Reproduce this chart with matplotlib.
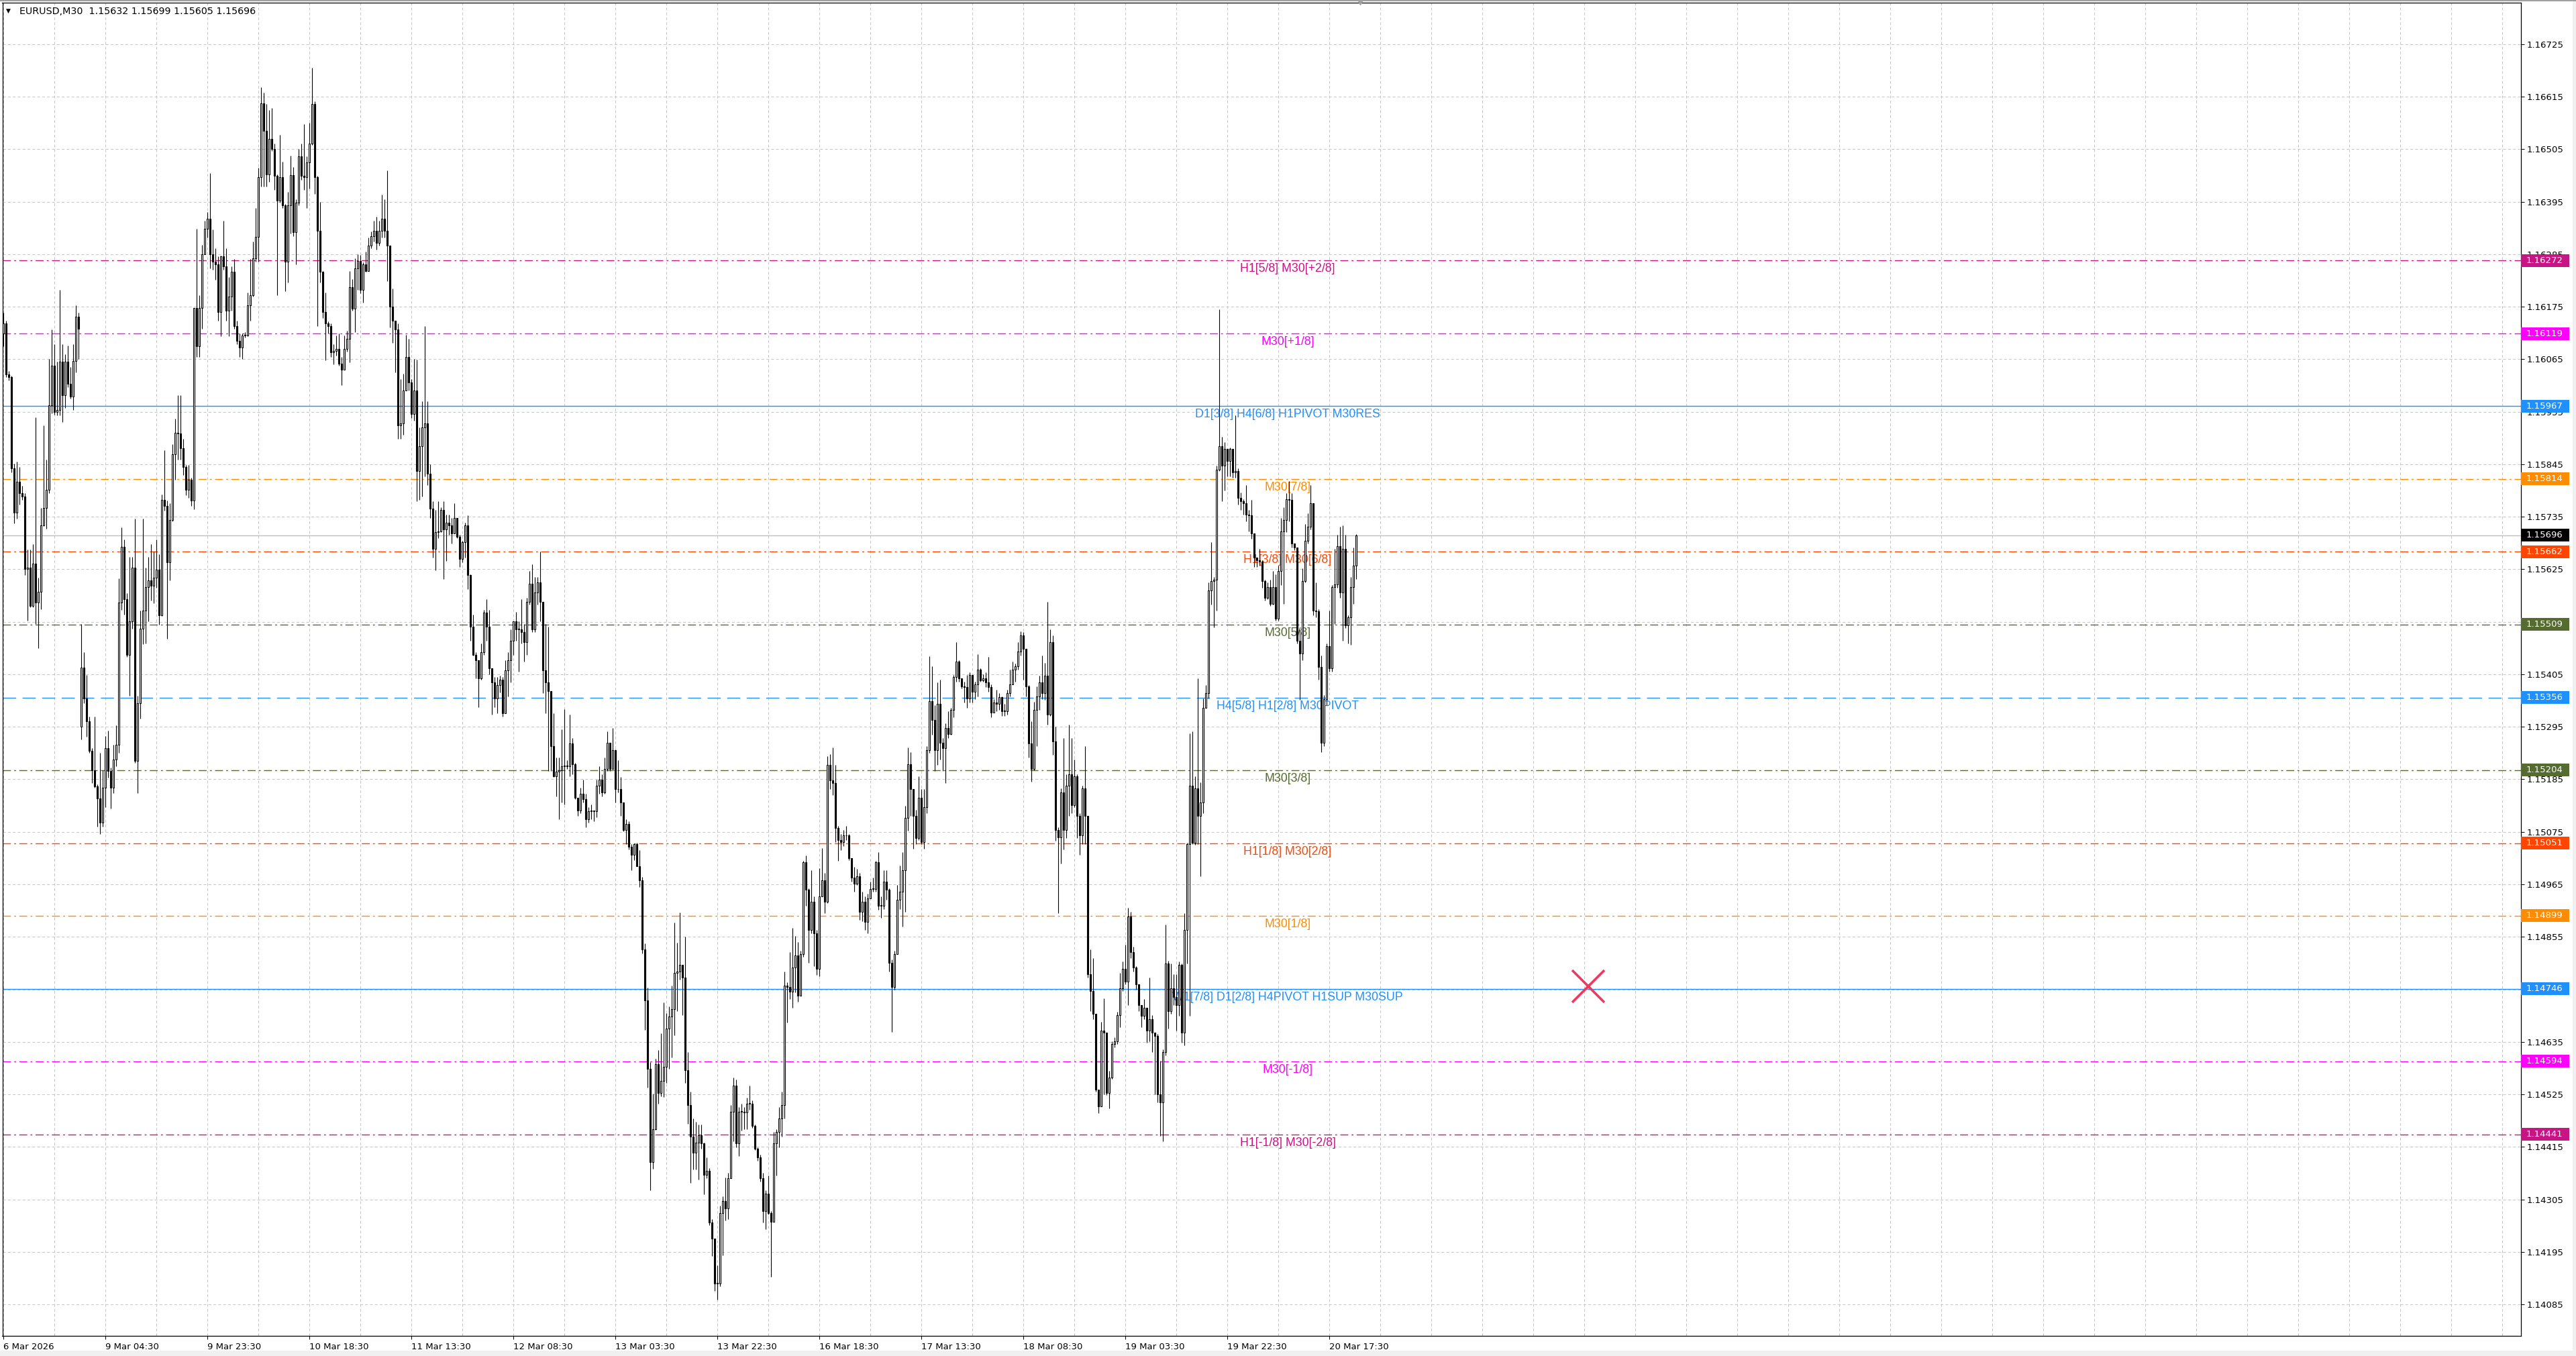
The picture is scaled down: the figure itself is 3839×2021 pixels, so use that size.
import matplotlib
matplotlib.use("Agg")
import matplotlib.pyplot as plt
import matplotlib.transforms as mtransforms
from matplotlib.patches import Rectangle
import numpy as np

# ---------------- data ----------------
title_text = "EURUSD,M30  1.15632 1.15699 1.15605 1.15696"

# prices stored as offsets: price = 1.1 + v / 1e5
first_open = 6119
gap_opens = {29: 5296}

closes = [
    6140, 6033, 6027, 5836, 5744, 5809, 5785, 5778, 5626, 5629,
    5548, 5637, 5556, 5578, 5717, 5753, 5791, 5968, 6051, 5955,
    5959, 6060, 5990, 6060, 6014, 5987, 6062, 6154, 6129,
    5419, 5355, 5306, 5245, 5204, 5170, 5145, 5095, 5167, 5250, 5202,
    5167, 5226, 5258, 5556, 5672, 5562, 5446, 5516, 5629, 5223,
    5344, 5500, 5538, 5588, 5602, 5591, 5608, 5624, 5529, 5771,
    5758, 5640, 5728, 5866, 5911, 5910, 5879, 5839, 5791, 5812,
    5769, 6172, 6092, 6172, 6285, 6339, 6359, 6285, 6269, 6264,
    6164, 6280, 6259, 6167, 6197, 6248, 6135, 6103, 6090, 6115,
    6115, 6178, 6199, 6277, 6321, 6447, 6601, 6544, 6452, 6527,
    6506, 6449, 6398, 6447, 6388, 6269, 6388, 6451, 6331, 6393,
    6490, 6450, 6447, 6477, 6517, 6600, 6447, 6334, 6248, 6164,
    6140, 6135, 6079, 6083, 6086, 6056, 6043, 6086, 6108,
    6216, 6171, 6256, 6271, 6210, 6264, 6250, 6303, 6323, 6334, 6309,
    6334, 6359, 6334, 6303, 6175, 6146, 6128, 5926, 5930, 5999,
    6070, 6017, 5950, 5999, 5831, 5883, 5922, 5930, 5825, 5752,
    5668, 5703, 5705, 5749, 5708, 5722, 5717, 5700, 5732, 5693,
    5647, 5682, 5717, 5613, 5505, 5446, 5435, 5396, 5452, 5534,
    5505, 5417, 5388, 5355, 5382, 5394, 5324, 5414, 5435, 5475,
    5516, 5499, 5499, 5493, 5472, 5557, 5595, 5499, 5577, 5598,
    5557, 5414, 5388, 5370, 5254, 5192, 5201, 5204, 5213, 5213,
    5213, 5260, 5216, 5146, 5120, 5155, 5143, 5102, 5118, 5118,
    5118, 5172, 5184, 5157, 5207, 5262, 5207, 5246, 5164, 5164,
    5137, 5079, 5091, 5044, 5027, 5050, 5003, 4974, 4829, 4722,
    4578, 4383, 4452, 4588, 4528, 4553, 4583, 4663, 4688, 4704,
    4779, 4782, 4796, 4770, 4575, 4502, 4437, 4403, 4424, 4439,
    4422, 4357, 4365, 4257, 4223, 4129, 4129, 4276, 4301, 4286,
    4349, 4489, 4543, 4422, 4489, 4489, 4487, 4506, 4506, 4459,
    4411, 4393, 4349, 4280, 4317, 4276, 4258, 4422, 4447, 4474,
    4502, 4753, 4750, 4740, 4790, 4816, 4732, 4819, 5011, 4954,
    4870, 4929, 4863, 4788, 4939, 4974, 4929, 5215, 5183, 5177,
    5083, 5058, 5054, 5067, 5067, 5020, 4979, 4966, 4982, 4907,
    4929, 4886, 4936, 4955, 4955, 5011, 4920, 4920, 4970, 4954,
    4801, 4750, 4819, 4932, 4949, 4995, 5104, 5217, 5164, 5108,
    5062, 5146, 5054, 5127, 5246, 5349, 5309, 5246, 5343, 5262,
    5250, 5293, 5280, 5330, 5400, 5431, 5397, 5380, 5378, 5355,
    5403, 5368, 5384, 5415, 5393, 5397, 5388, 5378, 5325, 5346,
    5343, 5357, 5328, 5328, 5365, 5384, 5415, 5422, 5453, 5487,
    5458, 5379, 5260, 5207, 5330, 5359, 5388, 5365, 5402, 5320,
    5472, 5265, 5079, 5064, 5157, 5079, 5172, 5196, 5131, 5192,
    5108, 5067, 5166, 5108, 4776, 4741, 4694, 4535, 4500, 4659,
    4654, 4528, 4560, 4630, 4636, 4691, 4747, 4788, 4761, 4898,
    4823, 4791, 4756, 4712, 4689, 4706, 4659, 4683, 4654, 4648,
    4525, 4508, 4613, 4799, 4700, 4747, 4729, 4712, 4796, 4654,
    4869, 5050, 5172, 5052, 5166, 5108, 5137, 5335, 5365, 5580,
    5600, 5603, 5833, 5883, 5842, 5877, 5852, 5877, 5828, 5831,
    5775, 5767, 5763, 5740, 5738, 5700, 5650, 5644, 5641, 5600,
    5565, 5588, 5553, 5588, 5522, 5621, 5705, 5728, 5772, 5770,
    5679, 5670, 5475, 5448, 5600, 5685, 5714, 5763, 5539, 5537,
    5420, 5262, 5353, 5464, 5417, 5588, 5594, 5673, 5577, 5668,
    5507, 5525, 5588, 5632, 5696,
]

highs = [
    6162, 6146, 6040, 6030, 5847, 5850, 5839, 5800, 5785, 5667,
    5667, 5678, 5944, 5608, 5753, 5927, 5855, 6065, 6127, 6097,
    6060, 6210, 6097, 6076, 6094, 6049, 6097, 6178, 6162,
    5511, 5452, 5403, 5317, 5250, 5317, 5175, 5240, 5204, 5276, 5287,
    5210, 5258, 5298, 5606, 5713, 5688, 5575, 5651, 5651, 5731,
    5360, 5538, 5731, 5629, 5651, 5678, 5662, 5688, 5656, 5782,
    5874, 5769, 5764, 5887, 5941, 5990, 5990, 5898, 5844, 5844,
    5817, 6172, 6339, 6199, 6305, 6355, 6374, 6455, 6337, 6298,
    6280, 6282, 6355, 6298, 6237, 6259, 6275, 6146, 6119, 6119,
    6122, 6205, 6275, 6312, 6382, 6466, 6635, 6624, 6600, 6587,
    6592, 6517, 6452, 6535, 6479, 6390, 6415, 6492, 6468, 6400,
    6506, 6517, 6557, 6490, 6560, 6675, 6605, 6450, 6395, 6250,
    6205, 6145, 6140, 6097, 6115, 6119, 6070, 6115, 6124,
    6250, 6233, 6276, 6285, 6283, 6268, 6291, 6320, 6332, 6355, 6363,
    6355, 6410, 6400, 6460, 6303, 6213, 6146, 6140, 6023, 6035,
    6116, 6108, 6023, 6066, 6064, 5922, 5977, 6134, 5977, 5845,
    5767, 5749, 5767, 5755, 5767, 5740, 5740, 5732, 5763, 5732,
    5697, 5685, 5722, 5738, 5615, 5530, 5452, 5435, 5470, 5540,
    5563, 5540, 5411, 5400, 5400, 5402, 5400, 5435, 5452, 5499,
    5516, 5536, 5516, 5563, 5510, 5565, 5621, 5635, 5609, 5609,
    5662, 5557, 5510, 5505, 5370, 5324, 5231, 5231, 5289, 5332,
    5225, 5320, 5271, 5219, 5143, 5167, 5184, 5155, 5126, 5132,
    5118, 5184, 5213, 5196, 5231, 5285, 5262, 5292, 5248, 5225,
    5190, 5137, 5102, 5097, 5050, 5050, 5052, 5036, 4980, 4841,
    4749, 4592, 4526, 4599, 4618, 4653, 4717, 4695, 4709, 4753,
    4885, 4843, 4906, 4796, 4855, 4613, 4531, 4474, 4468, 4462,
    4462, 4424, 4393, 4371, 4263, 4223, 4167, 4292, 4311, 4351,
    4361, 4502, 4560, 4556, 4499, 4506, 4499, 4518, 4543, 4512,
    4462, 4414, 4399, 4361, 4324, 4355, 4280, 4447, 4452, 4499,
    4531, 4782, 4760, 4823, 4873, 4857, 4844, 4826, 5014, 5026,
    4957, 4995, 4939, 4870, 4999, 5041, 4989, 5234, 5237, 5252,
    5215, 5087, 5070, 5079, 5087, 5070, 5016, 5001, 4998, 4989,
    4949, 4939, 4945, 4970, 4979, 5014, 5033, 4939, 4995, 4995,
    4957, 4807, 4826, 4964, 5004, 5033, 5129, 5252, 5242, 5165,
    5121, 5192, 5165, 5165, 5255, 5443, 5422, 5340, 5388, 5394,
    5271, 5303, 5328, 5334, 5403, 5472, 5434, 5397, 5390, 5403,
    5409, 5390, 5390, 5447, 5418, 5405, 5409, 5441, 5384, 5353,
    5372, 5365, 5359, 5343, 5372, 5415, 5431, 5428, 5472, 5495,
    5493, 5458, 5382, 5306, 5347, 5379, 5402, 5444, 5429, 5557,
    5499, 5487, 5295, 5085, 5166, 5271, 5196, 5300, 5271, 5227,
    5196, 5114, 5172, 5254, 5108, 4829, 4811, 4689, 4531, 4677,
    4726, 4654, 4574, 4636, 4644, 4698, 4780, 4803, 4838, 4916,
    4908, 4834, 4793, 4756, 4710, 4724, 4706, 4770, 4691, 4654,
    4651, 4595, 4619, 4881, 4805, 4799, 4776, 4776, 4803, 4799,
    4904, 5052, 5281, 5285, 5192, 5397, 5178, 5355, 5382, 5598,
    5682, 5609, 5842, 6169, 5903, 5891, 5877, 5880, 5863, 5947,
    5837, 5786, 5772, 5802, 5749, 5770, 5697, 5650, 5668, 5644,
    5603, 5598, 5603, 5621, 5615, 5633, 5732, 5755, 5784, 5810,
    5784, 5679, 5662, 5499, 5627, 5720, 5743, 5802, 5763, 5598,
    5542, 5444, 5362, 5469, 5539, 5592, 5668, 5697, 5714, 5717,
    5697, 5528, 5609, 5670, 5699,
]

lows = [
    6092, 6027, 6020, 5828, 5721, 5731, 5760, 5770, 5613, 5518,
    5546, 5545, 5511, 5460, 5541, 5715, 5710, 5785, 5952, 5949,
    5947, 5947, 5933, 5963, 6006, 5982, 5959, 6038, 6065,
    5269, 5344, 5274, 5240, 5177, 5167, 5086, 5070, 5086, 5126, 5188,
    5124, 5156, 5212, 5240, 5540, 5530, 5441, 5360, 5500, 5220,
    5156, 5312, 5468, 5470, 5516, 5559, 5554, 5586, 5509, 5527,
    5748, 5479, 5602, 5726, 5812, 5855, 5855, 5823, 5780, 5774,
    5758, 5751, 6070, 6070, 6129, 6328, 6320, 6255, 6253, 6232,
    6146, 6113, 6253, 6146, 6113, 6167, 6129, 6097, 6070, 6065,
    6110, 6113, 6146, 6197, 6269, 6269, 6427, 6427, 6427, 6436,
    6501, 6420, 6199, 6393, 6382, 6208, 6226, 6328, 6323, 6264,
    6388, 6441, 6420, 6382, 6423, 6514, 6412, 6135, 6226, 6151,
    6063, 6119, 6070, 6054, 6072, 6051, 6011, 6043, 6081,
    6058, 6167, 6122, 6210, 6204, 6183, 6248, 6253, 6297, 6311, 6295,
    6303, 6320, 6320, 6229, 6132, 6099, 6038, 5898, 5898, 5907,
    6017, 5999, 5942, 5936, 5767, 5770, 5778, 5819, 5802, 5732,
    5650, 5623, 5691, 5703, 5604, 5642, 5697, 5679, 5703, 5691,
    5630, 5639, 5650, 5584, 5475, 5444, 5396, 5336, 5394, 5446,
    5475, 5405, 5320, 5336, 5324, 5367, 5316, 5324, 5359, 5388,
    5446, 5475, 5411, 5470, 5432, 5446, 5551, 5493, 5493, 5551,
    5516, 5365, 5324, 5202, 5202, 5190, 5149, 5102, 5137, 5132,
    5207, 5192, 5196, 5143, 5108, 5114, 5137, 5085, 5094, 5102,
    5097, 5106, 5155, 5149, 5155, 5202, 5202, 5231, 5137, 5157,
    5108, 5076, 5050, 5038, 4994, 5015, 5003, 4959, 4820, 4660,
    4539, 4324, 4369, 4450, 4505, 4521, 4520, 4549, 4578, 4602,
    4649, 4700, 4765, 4691, 4549, 4463, 4339, 4368, 4368, 4346,
    4411, 4315, 4349, 4251, 4186, 4113, 4095, 4123, 4188, 4261,
    4263, 4349, 4427, 4414, 4396, 4449, 4452, 4452, 4493, 4455,
    4409, 4386, 4342, 4257, 4242, 4273, 4142, 4258, 4355, 4414,
    4437, 4474, 4675, 4725, 4706, 4738, 4719, 4732, 4813, 4920,
    4800, 4863, 4794, 4775, 4773, 4939, 4904, 4926, 5165, 5152,
    5054, 5014, 5036, 5045, 5058, 5016, 4970, 4949, 4964, 4891,
    4888, 4870, 4863, 4936, 4949, 4949, 4911, 4895, 4913, 4932,
    4782, 4656, 4744, 4819, 4913, 4876, 4907, 5077, 5108, 5039,
    5049, 5058, 5049, 5039, 5114, 5240, 5278, 5202, 5215, 5227,
    5202, 5177, 5271, 5278, 5315, 5390, 5390, 5375, 5346, 5334,
    5346, 5346, 5353, 5359, 5390, 5390, 5378, 5368, 5315, 5325,
    5328, 5330, 5318, 5318, 5321, 5359, 5384, 5390, 5415, 5444,
    5394, 5359, 5230, 5180, 5204, 5254, 5330, 5353, 5351, 5300,
    5318, 5236, 5056, 4904, 5009, 5038, 5062, 5108, 5114, 5126,
    5062, 5027, 5050, 5050, 4770, 4700, 4683, 4531, 4485, 4549,
    4525, 4523, 4496, 4558, 4624, 4630, 4665, 4741, 4756, 4712,
    4811, 4782, 4745, 4700, 4665, 4683, 4633, 4636, 4613, 4525,
    4508, 4438, 4426, 4607, 4663, 4694, 4712, 4659, 4689, 4633,
    4628, 4799, 4689, 5050, 5048, 5050, 4982, 5114, 5339, 5355,
    5551, 5504, 5539, 5831, 5767, 5790, 5819, 5819, 5817, 5817,
    5761, 5749, 5740, 5726, 5705, 5689, 5630, 5630, 5633, 5586,
    5560, 5563, 5549, 5551, 5518, 5518, 5592, 5553, 5703, 5726,
    5670, 5665, 5469, 5351, 5434, 5598, 5679, 5708, 5528, 5525,
    5394, 5242, 5254, 5341, 5411, 5411, 5510, 5586, 5565, 5475,
    5502, 5469, 5467, 5553, 5605,
]

date_labels = ["6 Mar 2026", "9 Mar 04:30", "9 Mar 23:30", "10 Mar 18:30",
               "11 Mar 13:30", "12 Mar 08:30", "13 Mar 03:30", "13 Mar 22:30",
               "16 Mar 18:30", "17 Mar 13:30", "18 Mar 08:30", "19 Mar 03:30",
               "19 Mar 22:30", "20 Mar 17:30"]
date_label_bars = [0, 38, 76, 114, 152, 190, 228, 266, 304, 342, 380, 418, 456, 494]

price_ticks = [1.16725, 1.16615, 1.16505, 1.16395, 1.16285, 1.16175, 1.16065,
               1.15955, 1.15845, 1.15735, 1.15625, 1.15515, 1.15405, 1.15295,
               1.15185, 1.15075, 1.14965, 1.14855, 1.14745, 1.14635, 1.14525,
               1.14415, 1.14305, 1.14195, 1.14085]

level_prices = [1.16272, 1.16119, 1.15967, 1.15814, 1.15662, 1.15509, 1.15356,
                1.15204, 1.15051, 1.14899, 1.14746, 1.14594, 1.14441]
level_labels = ["H1[5/8] M30[+2/8]", "M30[+1/8]", "D1[3/8] H4[6/8] H1PIVOT M30RES",
                "M30[7/8]", "H1[3/8] M30[6/8]", "M30[5/8]", "H4[5/8] H1[2/8] M30PIVOT",
                "M30[3/8]", "H1[1/8] M30[2/8]", "M30[1/8]",
                "W1[7/8] D1[2/8] H4PIVOT H1SUP M30SUP", "M30[-1/8]", "H1[-1/8] M30[-2/8]"]
level_colors = ["#C71585", "#FF00FF", "#1E90FF", "#FF8C00", "#FF4500", "#556B2F",
                "#1E90FF", "#556B2F", "#FF4500", "#FF8C00", "#1E90FF", "#FF00FF", "#C71585"]
level_kinds = ["dashdot", "dashdot", "solid", "dashdot", "dashdot", "dashdot", "dashed",
               "dashdot", "dashdot", "dashdot", "solid", "dashdot", "dashdot"]

current_price = 1.15696
cross_bar, cross_price = 590.5, 1.14752

# ---------------- layout ----------------
W, H, DPI = 3839, 2021, 100
L_PX, R_PX, T_PX, B_PX = 3.5, 3757.0, 4.0, 1991.0
AX_W = R_PX - L_PX
AX_H = B_PX - T_PX

n = len(closes)
assert len(highs) == n and len(lows) == n, (n, len(highs), len(lows))

c = 1.1 + np.array(closes) / 1e5
o = np.empty(n)
o[0] = 1.1 + first_open / 1e5
o[1:] = c[:-1]
for k, v in gap_opens.items():
    o[k] = 1.1 + v / 1e5
h = np.maximum(1.1 + np.array(highs) / 1e5, np.maximum(o, c))
l = np.minimum(1.1 + np.array(lows) / 1e5, np.minimum(o, c))
xb = np.arange(n)

fig = plt.figure(figsize=(W / DPI, H / DPI), dpi=DPI, facecolor="white")
ax = fig.add_axes([L_PX / W, 1 - B_PX / H, AX_W / W, AX_H / H])
ax.set_facecolor("white")

xmin, xmax = -0.375, 938.0
ymin, ymax = 1.14019, 1.16812
ax.set_xlim(xmin, xmax)
ax.set_ylim(ymin, ymax)

# grid
grid_kw = dict(color="#C8C8C8", linewidth=0.75, linestyle=(0, (4, 3)))
ax.set_yticks(price_ticks)
ax.set_yticklabels([f"{p:.5f}" for p in price_ticks])
ax.yaxis.tick_right()
ax.yaxis.grid(True, **grid_kw)
ax.set_xticks(date_label_bars)
ax.set_xticklabels(date_labels)
ax.set_xticks(list(range(0, 939, 19)), minor=True)
ax.xaxis.grid(True, which="both", **grid_kw)
ax.set_axisbelow("line")

ax.tick_params(axis="y", which="both", direction="out", length=3.6, width=0.72,
               pad=2.4, labelsize=9.5, colors="black")
ax.tick_params(axis="x", which="major", direction="out", length=3.6, width=0.72,
               pad=3.5, labelsize=9.5, colors="black")
ax.tick_params(axis="x", which="minor", length=0)
for lbl in ax.get_xticklabels():
    lbl.set_horizontalalignment("left")
for s in ax.spines.values():
    s.set_color("black")
    s.set_linewidth(0.9)

# level lines and labels
dash_styles = {"dashdot": (0, (8.5, 3.5, 2.0, 3.5)), "dashed": (0, (14, 7)), "solid": "-"}
label_x = (1919 - 5) / 4.0
for p, txt, col, kind in zip(level_prices, level_labels, level_colors, level_kinds):
    ax.axhline(p, color=col, linewidth=1.0, linestyle=dash_styles[kind], zorder=2)
    ax.annotate(txt, xy=(label_x, p), xytext=(0, -4), textcoords="offset pixels",
                ha="center", va="top", color=col, fontsize=12.8,
                family=["Liberation Sans", "DejaVu Sans"], zorder=2.5)
ax.axhline(current_price, color="#C0C0C0", linewidth=1.0, zorder=2)

# candles
ax.vlines(xb, l, h, color="black", linewidth=0.8, zorder=3)
up = c >= o
bot = np.minimum(o, c)
ht = np.maximum(np.abs(c - o), 0.000012)
ax.bar(xb[up], ht[up], bottom=bot[up], width=0.52, facecolor="white",
       edgecolor="black", linewidth=0.8, zorder=4)
ax.bar(xb[~up], ht[~up], bottom=bot[~up], width=0.52, facecolor="black",
       edgecolor="black", linewidth=0.8, zorder=4)

# red cross
ax.plot([cross_bar], [cross_price], marker="x", markersize=35, markeredgewidth=2.6,
        color="#EE3A5E", zorder=6, linestyle="none")

# price boxes on the right axis
blend = mtransforms.blended_transform_factory(ax.transAxes, ax.transData)
box_h = 19.0 * (ymax - ymin) / AX_H
box_w = 72.0 / AX_W
for p, col in list(zip(level_prices, level_colors)) + [(current_price, "black")]:
    ax.add_patch(Rectangle((1.0, p - box_h / 2), box_w, box_h, transform=blend,
                           facecolor=col, edgecolor="none", clip_on=False, zorder=6))
    ax.text(1.0 + 8.0 / AX_W, p, f"{p:.5f}", transform=blend, color="white",
            fontsize=9.5, ha="left", va="center", clip_on=False, zorder=7)

# chart shift marker at the top
top_blend = mtransforms.blended_transform_factory(ax.transData, ax.transAxes)
ax.plot([n + 0.5], [1.0], marker="v", markersize=5, color="#A0A0A0",
        transform=top_blend, clip_on=False, zorder=8)

# title
fig.text(9 / W, 1 - 16 / H, "\u25BC", fontsize=6.5, color="black", va="center", ha="left")
fig.text(29 / W, 1 - 17 / H, title_text, fontsize=10.3, color="black", va="center", ha="left")

# window frame bits
fig.patches.append(Rectangle((0, 0), 1, 8 / H, transform=fig.transFigure,
                             facecolor="#F0F0F0", edgecolor="none", zorder=0))
fig.patches.append(Rectangle((3834 / W, 0), 5 / W, 1, transform=fig.transFigure,
                             facecolor="#F0F0F0", edgecolor="none", zorder=0))
fig.patches.append(Rectangle((0, 1 - 1.5 / H), 1, 1.5 / H, transform=fig.transFigure,
                             facecolor="#A0A0A0", edgecolor="none", zorder=0))

fig.savefig("out.png", dpi=DPI, facecolor="white")
